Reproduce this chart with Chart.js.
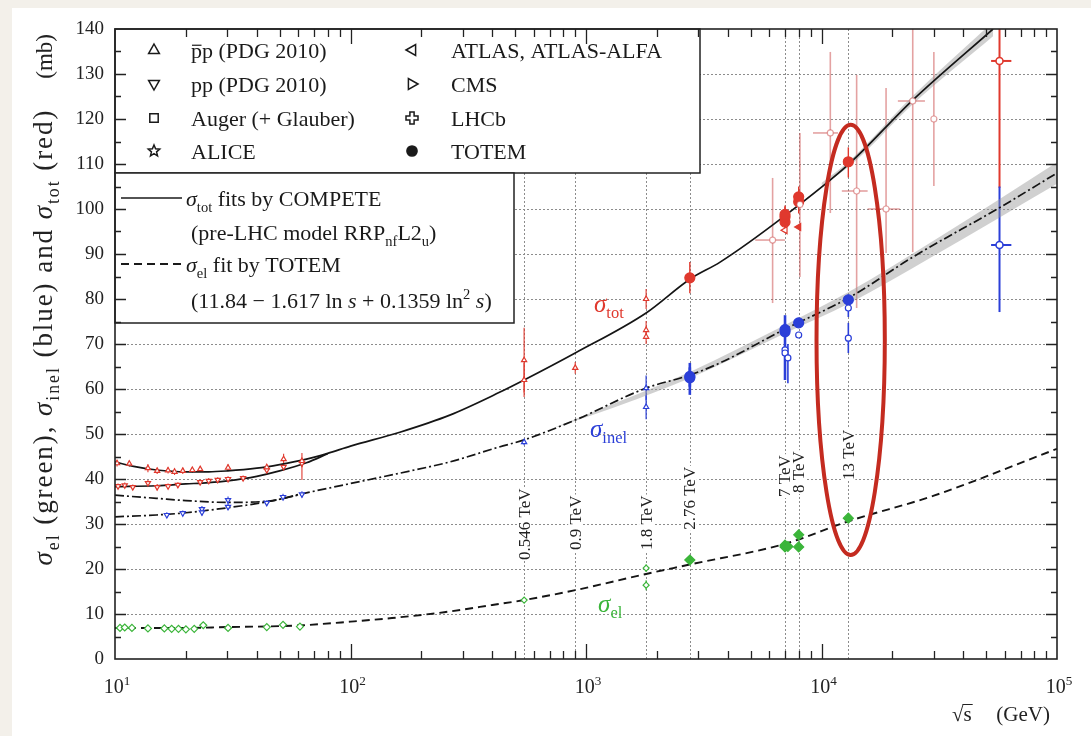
<!DOCTYPE html>
<html>
<head>
<meta charset="utf-8">
<title>pp cross sections vs energy</title>
<script src="https://cdn.jsdelivr.net/npm/chart.js@4.4.1/dist/chart.umd.min.js"></script>
<style>
  html, body { margin: 0; padding: 0; background: #f3f0ea; overflow: hidden; }
  #card { position: absolute; left: 12px; top: 8px; right: 0; bottom: 0; background: #fff; }
  #wrap { position: absolute; left: 0; top: 0; width: 1091px; height: 736px; }
</style>
</head>
<body>
<div id="card"></div>
<div id="wrap"><canvas id="xsec" width="1091" height="736"></canvas></div>
<script>
const SERIF = '"Liberation Serif", "DejaVu Serif", serif';

const RED = '#e0392e';
const PALE_RED = 'rgba(206, 86, 86, 0.55)';
const BLUE = '#2b3fd8';
const GREEN = '#3bb53a';
const RING = '#c42b20';

// ---- sigma_tot measurements (mb) vs sqrt(s) (GeV) ----
const totPbarpE  = [10.2, 11.5, 13.8, 15.1, 16.8, 17.9, 19.4, 21.3, 23.0, 30.2, 44.1, 52.0, 62.2, 546, 546, 900, 1800, 1800, 1800];
const totPbarpV  = [43.5, 43.4, 42.4, 41.8, 41.9, 41.6, 41.8, 42.0, 42.2, 42.5, 42.6, 44.4, 44.0, 66.4, 62.0, 64.7, 80.0, 73.1, 71.6];
const totPbarpLo = [42.8, 42.7, 41.5, 41.1, 41.2, 40.9, 41.1, 41.4, 41.6, 41.7, 41.9, 43.2, 39.8, 59.2, 58.2, 63.4, 77.8, 71.1, 70.0];
const totPbarpHi = [44.2, 44.1, 43.3, 42.5, 42.6, 42.3, 42.5, 42.6, 42.8, 43.3, 43.3, 45.6, 45.8, 73.6, 65.8, 66.0, 82.2, 75.1, 73.2];

const totPpE  = [10.3, 11.0, 11.9, 13.8, 15.1, 16.8, 18.5, 23.0, 25.0, 27.3, 30.2, 35.0, 44.1, 52.0, 62.2];
const totPpV  = [38.4, 38.6, 38.2, 39.1, 38.2, 38.4, 38.7, 39.3, 39.6, 39.8, 40.0, 40.2, 42.0, 42.7, 43.5];
const totPpLo = [37.8, 38.0, 37.6, 38.4, 37.5, 37.8, 38.1, 38.7, 39.0, 39.2, 39.4, 39.6, 41.3, 41.9, 42.6];
const totPpHi = [39.0, 39.2, 38.8, 39.8, 38.9, 39.0, 39.3, 39.9, 40.2, 40.4, 40.6, 40.8, 42.7, 43.5, 44.4];

// cosmic-ray derived points (with energy bins)
const cosmicE   = [6200, 8100, 10900, 14100, 18800, 24400, 30000];
const cosmicV   = [93.1, 101.0, 116.9, 104.0, 100.0, 124.0, 120.0];
const cosmicLo  = [79.1, 84.9, 99.1, 78.0, 90.2, 90.4, 105.1];
const cosmicHi  = [106.9, 116.9, 134.9, 129.8, 126.9, 140.0, 134.9];
const cosmicELo = [5230, 8100, 9200, 12200, 15700, 21100, 30000];
const cosmicEHi = [7000, 8100, 11750, 15700, 21500, 27500, 30000];

const totTotemE  = [2760, 7000, 7000, 7000, 8000, 8000, 13000];
const totTotemV  = [84.7, 97.1, 98.2, 98.8, 101.6, 102.7, 110.5];
const totTotemLo = [81.3, 94.8, 96.0, 97.0, 99.0, 100.5, 107.0];
const totTotemHi = [88.2, 99.5, 100.5, 100.8, 104.3, 105.0, 113.7];

const totAtlasE = [7000, 8000];
const totAtlasV = [95.3, 96.0];

// Auger (sigma_tot red, sigma_inel blue)
const augerE = [57000];
const augerELo = [52500];
const augerEHi = [64000];
const augerTotV = [132.9], augerTotLo = [104.7], augerTotHi = [140.0];
const augerInelV = [92.0], augerInelLo = [77.1], augerInelHi = [105.0];

// ---- sigma_inel measurements ----
const inelLowE  = [16.6, 19.4, 23.4, 23.4, 30.2, 30.2, 44.1, 51.7, 62.2];
const inelLowV  = [32.0, 32.4, 33.3, 32.6, 35.3, 33.8, 34.7, 36.0, 36.6];
const inelLowLo = [31.4, 31.8, 32.6, 31.9, 34.5, 33.1, 34.1, 35.3, 35.9];
const inelLowHi = [32.6, 33.0, 34.0, 33.3, 36.1, 34.5, 35.3, 36.7, 37.3];

const inelMidE  = [546, 1800, 1800];
const inelMidV  = [48.2, 60.2, 56.0];
const inelMidLo = [47.5, 57.5, 53.3];
const inelMidHi = [48.9, 63.0, 58.6];

const inelLhcE  = [2760, 2760, 7000, 7000, 8000, 13000];
const inelLhcV  = [62.8, 62.5, 72.7, 73.2, 74.7, 79.8];
const inelLhcLo = [58.7, 60.5, 62.0, 71.8, 74.0, 78.5];
const inelLhcHi = [65.8, 64.8, 76.4, 74.5, 75.5, 81.0];

const inelOpenE  = [7000, 7000, 7200, 8000, 13000, 13000];
const inelOpenV  = [68.7, 68.0, 66.9, 72.0, 78.0, 71.3];
const inelOpenLo = [66.0, 64.0, 61.3, 71.3, 76.0, 68.0];
const inelOpenHi = [71.0, 72.0, 70.0, 72.7, 80.0, 74.7];

// ---- sigma_el measurements ----
const elLowE = [10.5, 11.0, 11.8, 13.8, 16.2, 17.4, 18.6, 20.0, 21.7, 23.7, 30.2, 44.1, 51.7, 61.0];
const elLowV = [6.9, 7.0, 6.9, 6.8, 6.8, 6.7, 6.7, 6.6, 6.7, 7.5, 6.9, 7.1, 7.6, 7.2];

const elMidE  = [546, 1800, 1800];
const elMidV  = [13.1, 20.2, 16.4];
const elMidLo = [12.8, 19.4, 15.3];
const elMidHi = [13.4, 21.0, 17.5];

const elLhcE  = [2760, 7000, 7000, 7200, 8000, 8000, 13000];
const elLhcV  = [22.0, 25.3, 24.9, 25.0, 27.6, 24.9, 31.3];
const elLhcLo = [21.0, 24.5, 24.2, 24.3, 26.6, 24.3, 30.2];
const elLhcHi = [23.0, 26.0, 25.6, 25.7, 28.6, 25.5, 32.4];

// ---- fitted curves ----
const totFitE = [10, 12, 15, 20, 25, 30, 40, 50, 65, 80, 100, 162, 264, 427, 546, 900, 1800, 2760, 3710, 6870, 13200, 24400, 53500];
const totFitV = [43.8, 42.8, 42.0, 41.6, 41.6, 41.8, 42.4, 43.2, 44.4, 45.7, 47.3, 50.4, 54.2, 59.2, 62.0, 68.0, 76.9, 84.4, 88.2, 98.2, 110.2, 124.2, 140.0];
const totFitPpE = [10, 15, 20, 25, 30, 40, 50, 65, 80];
const totFitPpV = [38.3, 38.5, 38.9, 39.2, 39.6, 40.6, 41.8, 43.6, 45.6];
const totBandE  = [10000, 13200, 24400, 53500];
const totBandLo = [105.2, 109.6, 123.3, 138.4];
const totBandHi = [105.8, 110.8, 125.1, 141.6];

const inelFitE = [10, 15, 20, 30, 45, 62, 100, 162, 264, 427, 546, 900, 1800, 2760, 3710, 6870, 13200, 24400, 57500, 100000];
const inelFitV = [36.4, 35.7, 35.2, 34.8, 35.1, 36.7, 39.0, 41.3, 43.8, 47.1, 48.7, 53.1, 60.2, 63.1, 65.8, 73.1, 80.4, 89.3, 100.4, 108.0];
const inelFitPpE = [10, 15, 20, 30, 45, 62];
const inelFitPpV = [31.6, 32.0, 32.5, 33.6, 35.0, 36.6];
const inelBandE  = [700, 1000, 2760, 7000, 13200, 30000, 100000];
const inelBandLo = [51.0, 53.7, 62.4, 72.4, 79.1, 89.6, 105.6];
const inelBandHi = [51.0, 54.3, 63.8, 74.2, 81.7, 93.0, 110.4];

const elFitE = [10, 20, 30, 50, 63, 100, 150, 250, 400, 546, 900, 1800, 2760, 7000, 13000, 30000, 100000];
const elFitV = [6.9, 6.9, 7.1, 7.3, 7.5, 8.3, 9.1, 10.4, 12.0, 13.1, 15.3, 18.9, 21.0, 25.6, 30.6, 36.3, 46.7];

// ---- collider energies marked with vertical lines ----
const energyLineE = [546, 900, 1800, 2760, 7000, 8000, 13000];
const energyLineText = ['0.546 TeV', '0.9 TeV', '1.8 TeV', '2.76 TeV', '7 TeV', '8 TeV', '13 TeV'];
const energyLineTextFrom = [22.0, 24.2, 24.2, 28.7, 36.0, 36.9, 39.8];

// highlight ring around the 13 TeV measurements
const ringE = 13300, ringMid = 70.9, ringHalfDecades = 0.145, ringHalfMb = 47.8;

// curve name labels: [energy, mb]
const totNameAt = [1081, 77.1];
const inelNameAt = [1040, 49.3];
const elNameAt = [1125, 10.4];

const xDecades = [1, 2, 3, 4, 5];
const legendMarkLabels = ['pp (PDG 2010)', 'pp (PDG 2010)', 'Auger (+ Glauber)', 'ALICE',
                          'ATLAS, ATLAS-ALFA', 'CMS', 'LHCb', 'TOTEM'];
const legendMarkKinds = ['up', 'down', 'square', 'star', 'left', 'right', 'plus', 'dot'];

function pts(E, V) { return E.map((e, i) => ({ x: e, y: V[i] })); }

function markerSet(E, V, color, style, extra) {
  return Object.assign({
    data: pts(E, V),
    showLine: false,
    pointStyle: style,
    pointRadius: 3,
    pointBorderColor: color,
    pointBackgroundColor: '#fff',
    pointBorderWidth: 1.2,
    order: 0
  }, extra || {});
}

function curveSet(E, V, dash, width) {
  return {
    data: pts(E, V),
    showLine: true,
    pointRadius: 0,
    borderColor: '#151515',
    borderWidth: width,
    borderDash: dash,
    cubicInterpolationMode: 'monotone',
    fill: false,
    order: 5
  };
}

function bandSet(E, V, fill) {
  return {
    data: pts(E, V),
    showLine: true,
    pointRadius: 0,
    borderWidth: 0,
    borderColor: 'rgba(0,0,0,0)',
    backgroundColor: 'rgba(150,150,150,0.45)',
    cubicInterpolationMode: 'monotone',
    fill: fill,
    order: 10
  };
}

// error bars: vertical always, horizontal when an energy bin is given
const errorBars = [
  { E: totPbarpE, lo: totPbarpLo, hi: totPbarpHi, V: totPbarpV, color: RED, width: 1.1 },
  { E: totPpE, lo: totPpLo, hi: totPpHi, V: totPpV, color: RED, width: 1.1 },
  { E: cosmicE, lo: cosmicLo, hi: cosmicHi, V: cosmicV, eLo: cosmicELo, eHi: cosmicEHi, color: PALE_RED, width: 1.6 },
  { E: totTotemE, lo: totTotemLo, hi: totTotemHi, V: totTotemV, color: RED, width: 1.4 },
  { E: augerE, lo: augerTotLo, hi: augerTotHi, V: augerTotV, eLo: augerELo, eHi: augerEHi, color: RED, width: 2 },
  { E: augerE, lo: augerInelLo, hi: augerInelHi, V: augerInelV, eLo: augerELo, eHi: augerEHi, color: BLUE, width: 2 },
  { E: inelLowE, lo: inelLowLo, hi: inelLowHi, V: inelLowV, color: BLUE, width: 1.1 },
  { E: inelMidE, lo: inelMidLo, hi: inelMidHi, V: inelMidV, color: BLUE, width: 1.2 },
  { E: inelLhcE, lo: inelLhcLo, hi: inelLhcHi, V: inelLhcV, color: BLUE, width: 2.6 },
  { E: inelOpenE, lo: inelOpenLo, hi: inelOpenHi, V: inelOpenV, color: BLUE, width: 1.6 },
  { E: elMidE, lo: elMidLo, hi: elMidHi, V: elMidV, color: GREEN, width: 1.2 },
  { E: elLhcE, lo: elLhcLo, hi: elLhcHi, V: elLhcV, color: GREEN, width: 1.6 }
];

function fontFor(p, size) {
  const fs = (p.sub || p.sup) ? size * 0.66 : size;
  return (p.italic ? 'italic ' : '') + fs.toFixed(1) + 'px ' + SERIF;
}

// width of a run of parts; track adds extra space after every character
function richWidth(ctx, parts, size, track) {
  let w = 0;
  parts.forEach(p => {
    ctx.font = fontFor(p, size);
    w += ctx.measureText(p.t).width + (track || 0) * p.t.length;
  });
  return w;
}

function countChars(parts) {
  return parts.reduce((n, p) => n + p.t.length, 0);
}

function drawRich(ctx, x, y, parts, size, align, track) {
  track = track || 0;
  let cx = x;
  if (align === 'right') cx = x - richWidth(ctx, parts, size, track);
  if (align === 'center') cx = x - richWidth(ctx, parts, size, track) / 2;
  ctx.textAlign = 'left';
  ctx.textBaseline = 'alphabetic';
  parts.forEach(p => {
    ctx.font = fontFor(p, size);
    const dy = p.sub ? size * 0.25 : (p.sup ? -size * 0.4 : 0);
    const start = cx;
    if (track) {
      for (const ch of p.t) {
        ctx.fillText(ch, cx, y + dy);
        cx += ctx.measureText(ch).width + track;
      }
    } else {
      ctx.fillText(p.t, cx, y + dy);
      cx += ctx.measureText(p.t).width;
    }
    if (p.bar) {
      ctx.save();
      ctx.lineWidth = 1.2;
      ctx.strokeStyle = ctx.fillStyle;
      ctx.beginPath();
      ctx.moveTo(start + 1, y - size * 0.58);
      ctx.lineTo(cx - 0.5, y - size * 0.58);
      ctx.stroke();
      ctx.restore();
    }
  });
  return cx;
}

function drawMarker(ctx, kind, x, y, r, filled) {
  ctx.beginPath();
  if (kind === 'up') {
    ctx.moveTo(x, y - r); ctx.lineTo(x + r * 0.9, y + r * 0.6); ctx.lineTo(x - r * 0.9, y + r * 0.6); ctx.closePath();
  } else if (kind === 'down') {
    ctx.moveTo(x, y + r); ctx.lineTo(x + r * 0.9, y - r * 0.6); ctx.lineTo(x - r * 0.9, y - r * 0.6); ctx.closePath();
  } else if (kind === 'left') {
    ctx.moveTo(x - r, y); ctx.lineTo(x + r * 0.6, y - r * 0.9); ctx.lineTo(x + r * 0.6, y + r * 0.9); ctx.closePath();
  } else if (kind === 'right') {
    ctx.moveTo(x + r, y); ctx.lineTo(x - r * 0.6, y - r * 0.9); ctx.lineTo(x - r * 0.6, y + r * 0.9); ctx.closePath();
  } else if (kind === 'square') {
    ctx.rect(x - r * 0.7, y - r * 0.7, r * 1.4, r * 1.4);
  } else if (kind === 'star') {
    for (let i = 0; i < 10; i++) {
      const rr = i % 2 === 0 ? r : r * 0.45;
      const a = -Math.PI / 2 + i * Math.PI / 5;
      const px = x + rr * Math.cos(a), py = y + rr * Math.sin(a);
      if (i === 0) ctx.moveTo(px, py); else ctx.lineTo(px, py);
    }
    ctx.closePath();
  } else if (kind === 'plus') {
    const a = r * 0.35, b = r;
    ctx.moveTo(x - a, y - b); ctx.lineTo(x + a, y - b); ctx.lineTo(x + a, y - a); ctx.lineTo(x + b, y - a);
    ctx.lineTo(x + b, y + a); ctx.lineTo(x + a, y + a); ctx.lineTo(x + a, y + b); ctx.lineTo(x - a, y + b);
    ctx.lineTo(x - a, y + a); ctx.lineTo(x - b, y + a); ctx.lineTo(x - b, y - a); ctx.lineTo(x - a, y - a);
    ctx.closePath();
  } else {
    ctx.arc(x, y, r * 0.85, 0, Math.PI * 2);
  }
  if (filled) ctx.fill();
  ctx.stroke();
}

const yTitleParts = [{ t: 'σ', italic: true }, { t: 'el', sub: true }, { t: ' (green), ' },
  { t: 'σ', italic: true }, { t: 'inel', sub: true }, { t: ' (blue) and ' },
  { t: 'σ', italic: true }, { t: 'tot', sub: true }, { t: ' (red)' }];

const decor = {
  id: 'decor',
  beforeDatasetsDraw(chart) {
    const { ctx, chartArea: a } = chart;
    const xs = chart.scales.x, ys = chart.scales.y;
    ctx.save();

    // dotted horizontal grid
    ctx.strokeStyle = '#8c8c8c';
    ctx.lineWidth = 1;
    ctx.setLineDash([2, 2]);
    for (let v = 10; v < 140; v += 10) {
      const y = Math.round(ys.getPixelForValue(v)) + 0.5;
      ctx.beginPath(); ctx.moveTo(a.left, y); ctx.lineTo(a.right, y); ctx.stroke();
    }
    // dotted vertical lines at collider energies
    energyLineE.forEach(E => {
      const x = Math.round(xs.getPixelForValue(E)) + 0.5;
      ctx.beginPath(); ctx.moveTo(x, a.top); ctx.lineTo(x, a.bottom); ctx.stroke();
    });
    ctx.setLineDash([]);

    // rotated energy labels on white patches
    ctx.font = '17px ' + SERIF;
    energyLineE.forEach((E, i) => {
      const x = xs.getPixelForValue(E);
      const y = ys.getPixelForValue(energyLineTextFrom[i]);
      const w = ctx.measureText(energyLineText[i]).width;
      ctx.save();
      ctx.translate(x, y);
      ctx.rotate(-Math.PI / 2);
      ctx.fillStyle = '#fff';
      ctx.fillRect(-1, -7, w + 2, 14);
      ctx.fillStyle = '#222';
      ctx.textAlign = 'left';
      ctx.textBaseline = 'middle';
      ctx.fillText(energyLineText[i], 0, 1);
      ctx.restore();
    });

    // error bars
    ctx.beginPath();
    ctx.rect(a.left, a.top, a.right - a.left, a.bottom - a.top);
    ctx.clip();
    errorBars.forEach(s => {
      ctx.strokeStyle = s.color;
      ctx.lineWidth = s.width;
      s.E.forEach((E, i) => {
        const x = xs.getPixelForValue(E);
        ctx.beginPath();
        ctx.moveTo(x, ys.getPixelForValue(s.lo[i]));
        ctx.lineTo(x, ys.getPixelForValue(s.hi[i]));
        ctx.stroke();
        if (s.eLo && s.eLo[i] !== s.eHi[i]) {
          const y = ys.getPixelForValue(s.V[i]);
          ctx.beginPath();
          ctx.moveTo(xs.getPixelForValue(s.eLo[i]), y);
          ctx.lineTo(xs.getPixelForValue(s.eHi[i]), y);
          ctx.stroke();
        }
      });
    });
    ctx.restore();
  },

  afterDatasetsDraw(chart) {
    const { ctx, chartArea: a } = chart;
    const xs = chart.scales.x, ys = chart.scales.y;
    ctx.save();

    // ring around the 13 TeV points
    const cx = xs.getPixelForValue(ringE);
    const rx = (xs.getPixelForValue(ringE * Math.pow(10, ringHalfDecades)) - xs.getPixelForValue(ringE / Math.pow(10, ringHalfDecades))) / 2;
    const cy = ys.getPixelForValue(ringMid);
    const ry = (ys.getPixelForValue(ringMid - ringHalfMb) - ys.getPixelForValue(ringMid + ringHalfMb)) / 2;
    ctx.strokeStyle = RING;
    ctx.lineWidth = 4;
    ctx.beginPath();
    ctx.ellipse(cx, cy, rx, ry, 0, 0, Math.PI * 2);
    ctx.stroke();

    // curve names
    ctx.fillStyle = RED;
    drawRich(ctx, xs.getPixelForValue(totNameAt[0]), ys.getPixelForValue(totNameAt[1]),
      [{ t: 'σ', italic: true }, { t: 'tot', sub: true }], 25);
    ctx.fillStyle = BLUE;
    drawRich(ctx, xs.getPixelForValue(inelNameAt[0]), ys.getPixelForValue(inelNameAt[1]),
      [{ t: 'σ', italic: true }, { t: 'inel', sub: true }], 25);
    ctx.fillStyle = GREEN;
    drawRich(ctx, xs.getPixelForValue(elNameAt[0]), ys.getPixelForValue(elNameAt[1]),
      [{ t: 'σ', italic: true }, { t: 'el', sub: true }], 25);

    // legend boxes
    const L = a.left;
    ctx.fillStyle = '#fff';
    ctx.strokeStyle = '#222';
    ctx.lineWidth = 1.5;
    ctx.fillRect(L, a.top, 700 - L, 173 - a.top);
    ctx.strokeRect(L, a.top, 700 - L, 173 - a.top);
    ctx.fillRect(L, 173, 514 - L, 323 - 173);
    ctx.strokeRect(L, 173, 514 - L, 323 - 173);

    ctx.fillStyle = '#1a1a1a';
    ctx.strokeStyle = '#1a1a1a';
    const rowY = [50, 84, 118, 151];
    legendMarkKinds.forEach((k, i) => {
      const col = i < 4 ? 0 : 1;
      const y = rowY[i % 4];
      const mx = col === 0 ? 154 : 412;
      const tx = col === 0 ? 191 : 451;
      ctx.lineWidth = 1.5;
      drawMarker(ctx, k, mx, y, 6, k === 'dot');
      const parts = i === 0
        ? [{ t: 'p', bar: true }, { t: legendMarkLabels[i].slice(1) }]
        : [{ t: legendMarkLabels[i] }];
      drawRich(ctx, tx, y + 8, parts, 22);
    });

    // fit line samples
    ctx.lineWidth = 1.5;
    ctx.beginPath(); ctx.moveTo(121, 198); ctx.lineTo(182, 198); ctx.stroke();
    ctx.lineWidth = 2.2;
    ctx.setLineDash([8, 5]);
    ctx.beginPath(); ctx.moveTo(121, 264); ctx.lineTo(184, 264); ctx.stroke();
    ctx.setLineDash([]);
    drawRich(ctx, 186, 206, [{ t: 'σ', italic: true }, { t: 'tot', sub: true }, { t: ' fits by COMPETE' }], 22);
    drawRich(ctx, 191, 240, [{ t: '(pre-LHC model RRP' }, { t: 'nf', sub: true }, { t: 'L2' }, { t: 'u', sub: true }, { t: ')' }], 22);
    drawRich(ctx, 186, 272, [{ t: 'σ', italic: true }, { t: 'el', sub: true }, { t: ' fit by TOTEM' }], 22);
    drawRich(ctx, 191, 308, [{ t: '(11.84 − 1.617 ln ' }, { t: 's', italic: true }, { t: ' + 0.1359 ln' },
      { t: '2', sup: true }, { t: ' ' }, { t: 's', italic: true }, { t: ')' }], 22);

    // frame
    ctx.strokeStyle = '#222';
    ctx.lineWidth = 1.6;
    ctx.strokeRect(a.left, a.top, a.right - a.left, a.bottom - a.top);

    // inward ticks
    ctx.lineWidth = 1.3;
    ctx.beginPath();
    for (let v = 5; v < 140; v += 5) {
      const y = Math.round(ys.getPixelForValue(v)) + 0.5;
      const len = v % 10 === 0 ? 11 : 6;
      ctx.moveTo(a.left, y); ctx.lineTo(a.left + len, y);
      ctx.moveTo(a.right, y); ctx.lineTo(a.right - len, y);
    }
    for (let d = 1; d < 5; d++) {
      for (let m = 1; m < 10; m++) {
        if (d === 1 && m === 1) continue;
        const x = Math.round(xs.getPixelForValue(m * Math.pow(10, d))) + 0.5;
        const len = m === 1 ? 15 : 8;
        ctx.moveTo(x, a.bottom); ctx.lineTo(x, a.bottom - len);
        ctx.moveTo(x, a.top); ctx.lineTo(x, a.top + len);
      }
    }
    ctx.stroke();

    // x tick labels 10^n
    ctx.fillStyle = '#222';
    xDecades.forEach(n => {
      const x = xs.getPixelForValue(Math.pow(10, n));
      const parts = [{ t: '10' }, { t: String(n), sup: true }];
      drawRich(ctx, x + 2, 693, parts, 20, 'center');
    });

    // x axis title
    drawRich(ctx, 1050, 721, [{ t: '(GeV)' }], 21, 'right');
    ctx.font = '21px ' + SERIF;
    ctx.textAlign = 'left';
    ctx.fillText('√', 952, 721);
    const rw = ctx.measureText('√').width;
    ctx.fillText('s', 952 + rw, 721);
    const sw = ctx.measureText('s').width;
    ctx.lineWidth = 1;
    ctx.beginPath();
    ctx.moveTo(952 + rw - 1, 704.5);
    ctx.lineTo(952 + rw + sw + 1, 704.5);
    ctx.stroke();

    // y axis title, running from the 21 mb level up to the 122 mb level
    const titleSize = 27;
    const yFrom = ys.getPixelForValue(20.8), yTo = ys.getPixelForValue(122.3);
    const natural = richWidth(ctx, yTitleParts, titleSize, 0);
    const track = Math.max(0, ((yFrom - yTo) - natural) / countChars(yTitleParts));
    ctx.save();
    ctx.translate(52, yFrom);
    ctx.rotate(-Math.PI / 2);
    drawRich(ctx, 0, 0, yTitleParts, titleSize, 'left', track);
    ctx.restore();
    ctx.save();
    ctx.translate(52, 34);
    ctx.rotate(-Math.PI / 2);
    drawRich(ctx, 0, 0, [{ t: '(mb)' }], 23, 'right');
    ctx.restore();

    ctx.restore();
  }
};

const datasets = [
  // grey uncertainty bands (upper line filled down to the next one)
  bandSet(totBandE, totBandHi, '+1'),
  bandSet(totBandE, totBandLo, false),
  bandSet(inelBandE, inelBandHi, '+1'),
  bandSet(inelBandE, inelBandLo, false),
  // fits
  curveSet(totFitE, totFitV, [], 1.7),
  curveSet(totFitPpE, totFitPpV, [], 1.7),
  curveSet(inelFitE, inelFitV, [9, 3, 2, 3], 1.7),
  curveSet(inelFitPpE, inelFitPpV, [9, 3, 2, 3], 1.7),
  curveSet(elFitE, elFitV, [8, 5], 1.9),
  // measurements
  markerSet(totPbarpE, totPbarpV, RED, 'triangle'),
  markerSet(totPpE, totPpV, RED, 'triangle', { rotation: 180 }),
  markerSet(cosmicE, cosmicV, PALE_RED, 'circle', { pointRadius: 3 }),
  markerSet(augerE, augerTotV, RED, 'circle', { pointRadius: 3.5, pointBorderWidth: 1.6 }),
  markerSet(augerE, augerInelV, BLUE, 'circle', { pointRadius: 3.5, pointBorderWidth: 1.6 }),
  markerSet(totAtlasE, totAtlasV, RED, 'triangle', { rotation: 270, pointRadius: 4, pointBackgroundColor: ['#fff', RED] }),
  markerSet(totTotemE, totTotemV, RED, 'circle', { pointRadius: 5, pointBackgroundColor: RED }),
  markerSet(inelLowE, inelLowV, BLUE, 'triangle', { rotation: 180 }),
  markerSet(inelMidE, inelMidV, BLUE, 'triangle'),
  markerSet(inelOpenE, inelOpenV, BLUE, 'circle', { pointRadius: 3 }),
  markerSet(inelLhcE, inelLhcV, BLUE, 'circle', { pointRadius: 5, pointBackgroundColor: BLUE }),
  markerSet(elLowE, elLowV, GREEN, 'rectRot', { pointRadius: 3.5 }),
  markerSet(elMidE, elMidV, GREEN, 'rectRot', { pointRadius: 3 }),
  markerSet(elLhcE, elLhcV, GREEN, 'rectRot', { pointRadius: 5, pointBackgroundColor: GREEN })
];

new Chart(document.getElementById('xsec'), {
  type: 'scatter',
  data: { datasets: datasets },
  options: {
    responsive: false,
    animation: false,
    devicePixelRatio: 1,
    events: [],
    layout: { padding: { top: 29, right: 34, left: 0, bottom: 0 } },
    plugins: { legend: { display: false }, tooltip: { enabled: false } },
    scales: {
      x: {
        type: 'logarithmic',
        min: 10,
        max: 100000,
        afterFit: s => { s.height = 77; },
        grid: { display: false, drawTicks: false },
        border: { display: false },
        ticks: { display: false }
      },
      y: {
        type: 'linear',
        min: 0,
        max: 140,
        afterFit: s => { s.width = 115; },
        grid: { display: false, drawTicks: false },
        border: { display: false },
        ticks: { stepSize: 10, padding: 11, color: '#222', font: { family: SERIF, size: 19 } }
      }
    }
  },
  plugins: [decor]
});
</script>
</body>
</html>
